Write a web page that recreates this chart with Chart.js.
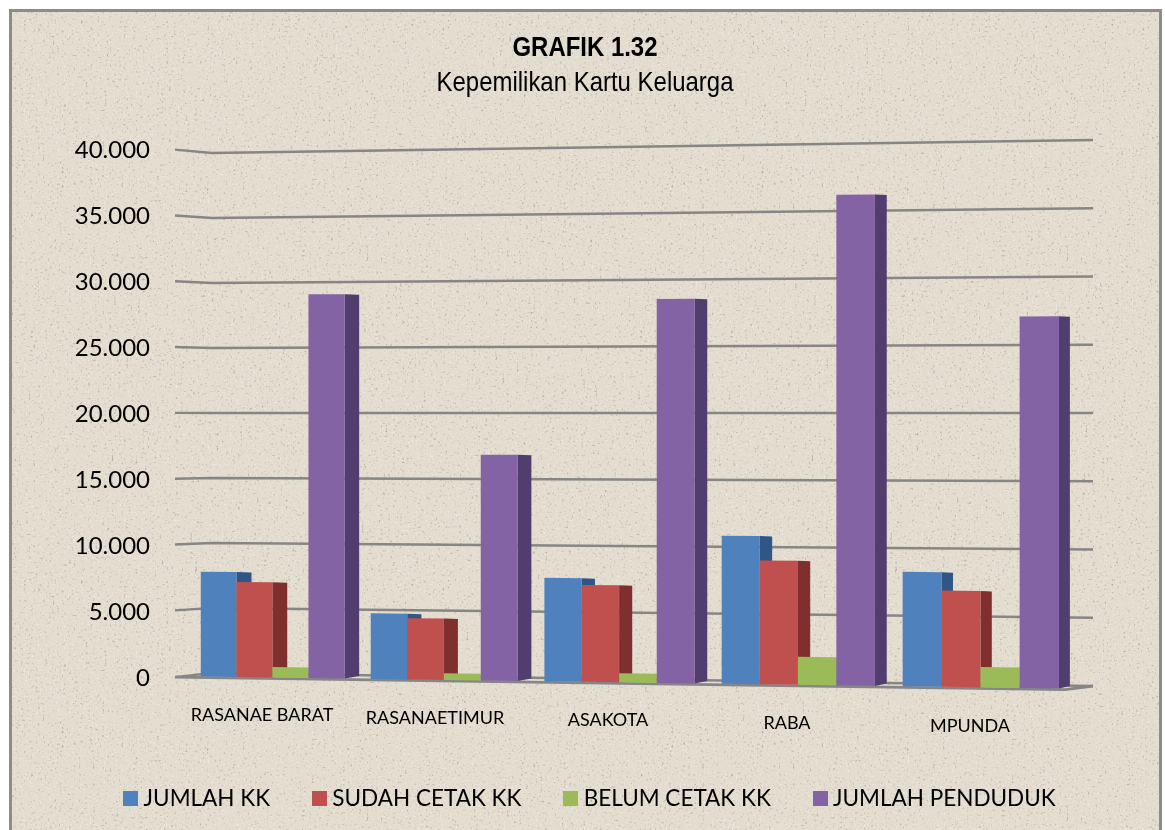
<!DOCTYPE html>
<html>
<head>
<meta charset="utf-8">
<style>
html,body{margin:0;padding:0;background:#fff;width:1165px;height:830px;overflow:hidden}
#frame{position:absolute;left:9px;top:9px;width:1147px;height:860px;border:3px solid #8c8c8c;background-color:#e3dccf;
background-image:url("data:image/svg+xml;utf8,<svg xmlns='http://www.w3.org/2000/svg' width='700' height='560'><filter id='a' x='0' y='0' width='100%' height='100%'><feTurbulence type='fractalNoise' baseFrequency='0.42' numOctaves='2' seed='7'/><feColorMatrix values='0 0 0 0 0.45  0 0 0 0 0.42  0 0 0 0 0.36  2.4 2.4 0 0 -2.75'/></filter><filter id='b' x='0' y='0' width='100%' height='100%'><feTurbulence type='fractalNoise' baseFrequency='0.5' numOctaves='2' seed='23'/><feColorMatrix values='0 0 0 0 0.95  0 0 0 0 0.93  0 0 0 0 0.88  1.1 1.1 0 0 -1.15'/></filter><rect width='700' height='560' filter='url(%23b)'/><rect width='700' height='560' filter='url(%23a)'/></svg>")}
#wrap{position:absolute;left:0;top:0;width:1165px;height:830px}
</style>
<script src="https://cdn.jsdelivr.net/npm/chart.js@4/dist/chart.umd.min.js"></script>
</head>
<body>
<div id="frame"></div>
<div id="wrap"><canvas id="c" width="1165" height="830"></canvas></div>
<script>
const CATEGORIES = ['RASANAE BARAT','RASANAETIMUR','ASAKOTA','RABA','MPUNDA'];
const JUMLAH_KK = [7950,4930,7720,10950,8400];
const SUDAH_CETAK_KK = [7200,4600,7220,9150,7050];
const BELUM_CETAK_KK = [800,500,680,2070,1500];
const JUMLAH_PENDUDUK = [28960,16900,28500,36100,27100];
const SERIES_NAMES = ['JUMLAH KK','SUDAH CETAK KK','BELUM CETAK KK','JUMLAH PENDUDUK'];
const TITLE_TEXT = 'GRAFIK 1.32';
const SUBTITLE_TEXT = 'Kepemilikan Kartu Keluarga';
const FRONT_COLORS = ['#4f81bd','#c0504d','#9bbb59','#8463a5'];
const SIDE_COLORS = ['#2f5687','#7f2f2d','#6d8a3a','#513d6e'];
const AXIS_MAX = 40000, AXIS_STEP = 5000;
const FONT = 'Lato, "Open Sans", sans-serif';
const HEAD = '"Liberation Sans", sans-serif';

// Perspective of the 3-D look: maps library scale pixels to the tilted picture plane.
function warpX(px){const t=(px-263)/176;return 272.4+169.7*t+1.83*t*t;}
function frontY(x,f){return 676.5+(x-201)*0.014-f*(526.5+(x-175)*0.0258);}
function backY(x,f){return 673+(x-212)*0.01476-f*(520+(x-212)*0.0295);}
const LABEL_NUDGE = [-1,-4,-7,-4,3];

function quad(ctx,p,fill){
  ctx.beginPath();ctx.moveTo(p[0][0],p[0][1]);
  for(let i=1;i<p.length;i++)ctx.lineTo(p[i][0],p[i][1]);
  ctx.closePath();ctx.fillStyle=fill;ctx.fill();
}
function swatch(color){
  const c=document.createElement('canvas');c.width=15;c.height=15;
  const g=c.getContext('2d');g.fillStyle=color;g.fillRect(0,0,15,15);return c;
}
const perspective={
  id:'perspective',
  beforeDatasetsDraw(chart){
    const ctx=chart.ctx,ys=chart.scales.y;
    const H=ys.bottom-ys.top;
    ctx.save();ctx.strokeStyle='#868686';ctx.lineWidth=2.4;ctx.lineJoin='round';
    ys.ticks.forEach(t=>{
      const f=(ys.bottom-ys.getPixelForValue(t.value))/H;
      ctx.beginPath();
      ctx.moveTo(175,frontY(175,f)+(f===0?1:0));
      ctx.lineTo(212,backY(212,f));
      ctx.lineTo(1093,backY(1093,f));
      ctx.stroke();
    });
    ctx.lineWidth=2.8;
    ctx.beginPath();
    ctx.moveTo(175,frontY(175,0)+1);ctx.lineTo(1065,frontY(1065,0)+1);ctx.lineTo(1093,backY(1093,0));
    ctx.stroke();
    chart.data.datasets.forEach((ds,di)=>{
      chart.getDatasetMeta(di).data.forEach(bar=>{
        const {x,y,width}=bar.getProps(['x','y','width'],true);
        const x1=warpX(x-width/2),x2=warpX(x+width/2);
        const f=(ys.bottom-y)/H;
        const dx=15-(x2-237)/704*3.5;
        const a=[x1,frontY(x1,0)],b=[x2,frontY(x2,0)],c=[x2,frontY(x2,f)],d=[x1,frontY(x1,f)];
        const sb=[x2+dx,b[1]-2.5],st=[x2+dx,c[1]+0.5];
        quad(ctx,[b,sb,st,c],SIDE_COLORS[di]);
        quad(ctx,[a,b,c,d],FRONT_COLORS[di]);
      });
    });
    ctx.restore();
  },
  beforeDatasetDraw(){return false;},
  afterDraw(chart){
    const ctx=chart.ctx,xs=chart.scales.x;
    ctx.save();ctx.fillStyle='#000';ctx.textAlign='center';ctx.textBaseline='middle';
    ctx.font='18px '+FONT;
    CATEGORIES.forEach((lab,i)=>{
      ctx.fillText(lab,xs.getPixelForTick(i)+LABEL_NUDGE[i],715+i*2.75);
    });
    ctx.font='bold 28px '+HEAD;
    ctx.fillText(TITLE_TEXT,585,48,145);
    ctx.font='28px '+HEAD;
    ctx.fillText(SUBTITLE_TEXT,585,83,297);
    ctx.restore();
  }
};
new Chart(document.getElementById('c'),{
  type:'bar',
  plugins:[perspective],
  data:{labels:CATEGORIES,datasets:[JUMLAH_KK,SUDAH_CETAK_KK,BELUM_CETAK_KK,JUMLAH_PENDUDUK].map((d,i)=>({
    label:SERIES_NAMES[i],data:d,backgroundColor:FRONT_COLORS[i],borderWidth:0,
    categoryPercentage:0.848,barPercentage:1
  }))},
  options:{
    responsive:false,animation:false,events:[],
    layout:{padding:{left:20,right:0,top:150,bottom:10}},
    plugins:{
      tooltip:{enabled:false},
      title:{display:false},
      legend:{position:'bottom',labels:{
        color:'#000',font:{family:FONT,size:22.5},usePointStyle:true,pointStyleWidth:3,padding:48,
        generateLabels(chart){
          const items=Chart.defaults.plugins.legend.labels.generateLabels(chart);
          items.forEach((it,i)=>{it.pointStyle=swatch(FRONT_COLORS[i]);});
          return items;
        }
      }}
    },
    scales:{
      x:{grid:{display:false},border:{display:false},ticks:{display:false},afterFit(s){s.height=61;}},
      y:{min:0,max:AXIS_MAX,ticks:{stepSize:AXIS_STEP,color:'#000',padding:25,font:{family:FONT,size:24},
          callback:v=>String(v).replace(/\B(?=(\d{3})+$)/g,'.')},
         grid:{display:false,drawTicks:false},border:{display:false},afterFit(s){s.width=155;}},
      pad:{axis:'y',position:'right',display:true,grid:{display:false},border:{display:false},ticks:{display:false},afterFit(s){s.width=110;}}
    }
  }
});
</script>
</body>
</html>
